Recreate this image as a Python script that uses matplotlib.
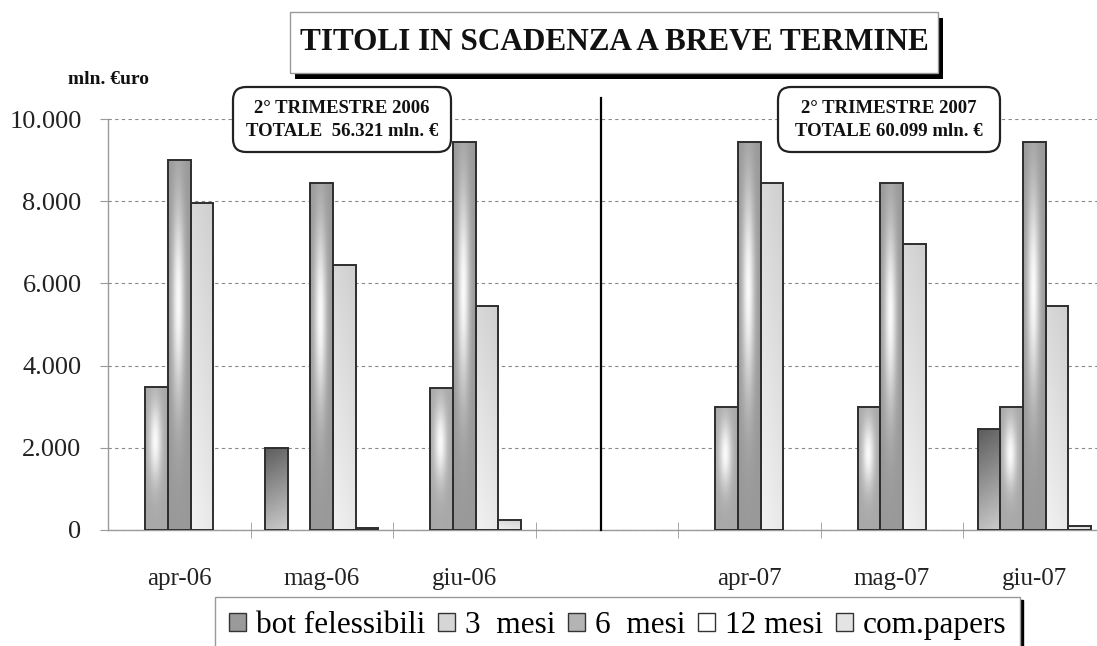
import numpy as np
import matplotlib
matplotlib.use("Agg")
import matplotlib.pyplot as plt
from matplotlib.patches import Rectangle, FancyBboxPatch

# ---------------- data ----------------
categories = ["apr-06", "mag-06", "giu-06", "", "apr-07", "mag-07", "giu-07"]
series_names = ["bot felessibili", "3  mesi", "6  mesi", "12 mesi", "com.papers"]
bot_flessibili = [0, 2000, 0, 0, 0, 0, 2450]
mesi_3 = [3480, 0, 3450, 0, 3000, 3000, 3000]
mesi_6 = [9000, 8450, 9450, 0, 9450, 8450, 9450]
mesi_12 = [7950, 6450, 5450, 0, 8450, 6950, 5450]
com_papers = [0, 50, 250, 0, 0, 0, 100]
yticks = [0, 2000, 4000, 6000, 8000, 10000]
ytick_labels = ["0", "2.000", "4.000", "6.000", "8.000", "10.000"]
box_texts = ["2° TRIMESTRE 2006\nTOTALE  56.321 mln. €",
             "2° TRIMESTRE 2007\nTOTALE 60.099 mln. €"]

W, H = 1097, 646
SERIF = ["Liberation Serif", "DejaVu Serif"]
plt.rcParams["font.family"] = SERIF


def fx(x):
    return x / W


def fy(y):
    return 1 - y / H


fig = plt.figure(figsize=(W / 100, H / 100), dpi=100)
fig.patch.set_facecolor("white")
ax = fig.add_axes([fx(108), fy(530), (W - 108) / W, (530 - 119) / H])

x = np.arange(len(categories))
n = len(series_names)
bw = 0.1586
series = [bot_flessibili, mesi_3, mesi_6, mesi_12, com_papers]


# gradient generators (grayscale, rows bottom->top)
def grad_bot(ny, nx):
    yy, xx = np.mgrid[0:1:ny * 1j, 0:1:nx * 1j]
    return 0.80 - 0.38 * yy - 0.06 * (1 - xx)


def grad_center(ny, nx, edge):
    yy, xx = np.mgrid[0:1:ny * 1j, 0:1:nx * 1j]
    bump = np.exp(-((xx - 0.45) / 0.28) ** 2) * np.exp(-((yy - 0.62) / 0.28) ** 2)
    return edge + (0.98 - edge) * bump


def grad_light(ny, nx):
    yy, xx = np.mgrid[0:1:ny * 1j, 0:1:nx * 1j]
    return 0.95 - 0.1 * yy - 0.04 * xx


grads = [
    lambda: grad_bot(100, 30),
    lambda: grad_center(100, 30, 0.66),
    lambda: grad_center(100, 30, 0.60),
    lambda: grad_light(100, 30),
    lambda: grad_light(100, 30),
]

for i, vals in enumerate(series):
    offs = (i - (n - 1) / 2) * bw
    mask = [v > 0 for v in vals]
    xs = [xi + offs for xi, m in zip(x, mask) if m]
    vs = [v for v, m in zip(vals, mask) if m]
    bars = ax.bar(xs, vs, width=bw, facecolor="none", edgecolor="#2e2e2e",
                  linewidth=1.4, zorder=3, label=series_names[i])
    for p in bars:
        g = grads[i]()
        img = np.dstack([g, g, g])
        im = ax.imshow(img, extent=[p.get_x(), p.get_x() + p.get_width(),
                                    0, p.get_height()],
                       origin="lower", aspect="auto", interpolation="bilinear",
                       zorder=2.5)
        im.set_clip_path(p)

ax.set_xlim(-0.5, -0.5 + (W - 108) / 142.5)
ax.set_ylim(0, 10000)
ax.set_aspect("auto")

# axes styling
for s in ["top", "right"]:
    ax.spines[s].set_visible(False)
for s in ["left", "bottom"]:
    ax.spines[s].set_color("#9a9a9a")
    ax.spines[s].set_linewidth(1.0)

ax.set_yticks(yticks)
ax.set_yticklabels(ytick_labels, fontsize=19, color="#222")
ax.tick_params(axis="y", length=6, color="#9a9a9a", pad=13)
ax.yaxis.grid(True, linestyle=(0, (3, 3)), color="#888", linewidth=0.8)
ax.set_axisbelow(True)

lab_idx = [i for i, c in enumerate(categories) if c]
ax.set_xticks(lab_idx)
ax.set_xticklabels([categories[i] for i in lab_idx], fontsize=18, color="#222")
ax.tick_params(axis="x", which="major", length=0, pad=27)
ax.set_xticks(np.arange(0.5, len(categories) - 1, 1.0), minor=True)
ax.tick_params(axis="x", which="minor", direction="inout", length=11,
               color="#9a9a9a")

# separator line between years
ax.axvline(2.96, ymin=0, ymax=1 + 21 / 411, color="black", linewidth=1.6,
           clip_on=False, zorder=4)

# title box with shadow
tx0, tx1, ty0, ty1 = 290, 938, 12, 73
fig.patches.append(Rectangle((fx(tx0 + 5), fy(ty1 + 6)), fx(tx1 - tx0),
                             (ty1 - ty0) / H, transform=fig.transFigure,
                             facecolor="black", edgecolor="none", zorder=5))
fig.patches.append(Rectangle((fx(tx0), fy(ty1)), fx(tx1 - tx0), (ty1 - ty0) / H,
                             transform=fig.transFigure, facecolor="white",
                             edgecolor="#999", linewidth=1.0, zorder=6))
fig.text(fx((tx0 + tx1) / 2), fy(43), "TITOLI IN SCADENZA A BREVE TERMINE",
         fontsize=22.5, fontweight="bold", ha="center", va="center", zorder=7,
         color="#111")

# y unit label
fig.text(fx(68), fy(79), "mln. €uro", fontsize=14, fontweight="bold",
         ha="left", va="center", color="#111")

# quarter boxes
for (x0, x1), txt in zip([(233, 451), (778, 1000)], box_texts):
    fig.patches.append(FancyBboxPatch((fx(x0), fy(152)), fx(x1 - x0), 65 / H,
                                      boxstyle="round,pad=0,rounding_size=0.012",
                                      transform=fig.transFigure,
                                      facecolor="white", edgecolor="#222",
                                      linewidth=1.6, zorder=5,
                                      mutation_aspect=W / H))
    fig.text(fx((x0 + x1) / 2), fy(120), txt, fontsize=13.5, fontweight="bold",
             ha="center", va="center", linespacing=1.45, zorder=6, color="#111")

# legend
handle_colors = ["#9a9a9a", "#d6d6d6", "#b4b4b4", "#ffffff", "#e4e4e4"]
handles = [Rectangle((0, 0), 1, 1, facecolor=c, edgecolor="#333", linewidth=1.0)
           for c in handle_colors]
leg = fig.legend(handles, series_names, ncol=5, loc="upper left",
                 bbox_to_anchor=(fx(215), fy(597)), frameon=True, fancybox=False,
                 edgecolor="#999", prop={"family": SERIF, "size": 22.5},
                 handlelength=0.55, handleheight=0.55, handletextpad=0.3,
                 columnspacing=0.42, borderpad=0.45, borderaxespad=0,
                 shadow={"color": "black", "alpha": 1})
leg.get_frame().set_linewidth(1.0)

fig.savefig("out.png", dpi=100, facecolor="white")
